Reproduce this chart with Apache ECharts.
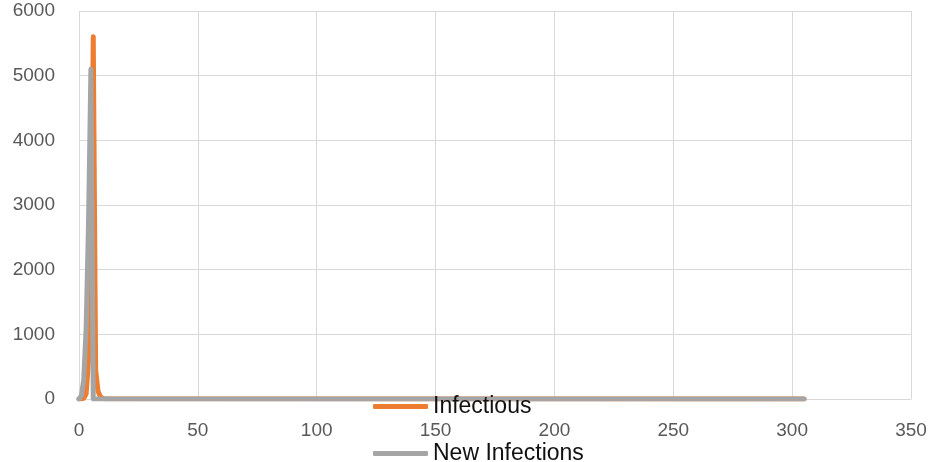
<!DOCTYPE html>
<html>
<head>
<meta charset="utf-8">
<script src="https://cdn.jsdelivr.net/npm/echarts@6/dist/echarts.min.js"></script>
<style>html,body{margin:0;padding:0;background:#fff}#c{width:935px;height:462px}</style>
</head>
<body>
<div id="c"></div>
<script>
// Day (x) values and series values
const days = [0, 1, 2, 3, 4, 5, 6, 7, 8, 9, 10, 11, 305];
const infectious = [0, 2, 10, 80, 600, 2000, 5600, 450, 120, 35, 10, 3, 0];
const newInfections = [0, 50, 300, 1100, 2700, 5100, 0, 0, 0, 0, 0, 0, 0];
const seriesNames = ['Infectious', 'New Infections'];
const xTicks = [0, 350, 50];
const yTicks = [0, 6000, 1000];

const pair = (vals) => days.map((d, i) => [d, vals[i]]);
const font = '"Liberation Sans", Arial, sans-serif';
const chart = echarts.init(document.getElementById('c'));
const legendCommon = {
  left: 373, padding: 0, itemWidth: 55, itemHeight: 5, itemGap: 0, icon: 'roundRect'
};
chart.setOption({
  animation: false,
  grid: { left: 79, right: 24, top: 11, bottom: 63, containLabel: false },
  xAxis: {
    type: 'value', min: xTicks[0], max: xTicks[1], interval: xTicks[2],
    axisLine: { show: true, lineStyle: { color: '#d9d9d9', width: 1 } },
    axisTick: { show: false },
    splitLine: { show: true, lineStyle: { color: '#d9d9d9', width: 1 } },
    axisLabel: { color: '#595959', fontSize: 19, fontFamily: font, margin: 22 }
  },
  yAxis: {
    type: 'value', min: yTicks[0], max: yTicks[1], interval: yTicks[2],
    axisLine: { show: false }, axisTick: { show: false },
    splitLine: { show: true, lineStyle: { color: '#d9d9d9', width: 1 } },
    axisLabel: { color: '#595959', fontSize: 19, fontFamily: font, margin: 24,
      formatter: (v) => String(v) }
  },
  legend: [
    Object.assign({ data: [seriesNames[0]], top: 395,
      textStyle: { fontSize: 23, fontFamily: font, color: '#111' } }, legendCommon),
    Object.assign({ data: [seriesNames[1]], top: 442,
      textStyle: { fontSize: 23, fontFamily: font, color: '#111' } }, legendCommon)
  ],
  series: [
    { name: seriesNames[0], type: 'line', data: pair(infectious), symbol: 'none', smooth: false,
      lineStyle: { color: '#ed7d31', width: 5, cap: 'round', join: 'round' }, itemStyle: { color: '#ed7d31' } },
    { name: seriesNames[1], type: 'line', data: pair(newInfections), symbol: 'none', smooth: false,
      lineStyle: { color: '#a5a5a5', width: 5, cap: 'round', join: 'round' }, itemStyle: { color: '#a5a5a5' } }
  ]
});
</script>
</body>
</html>
